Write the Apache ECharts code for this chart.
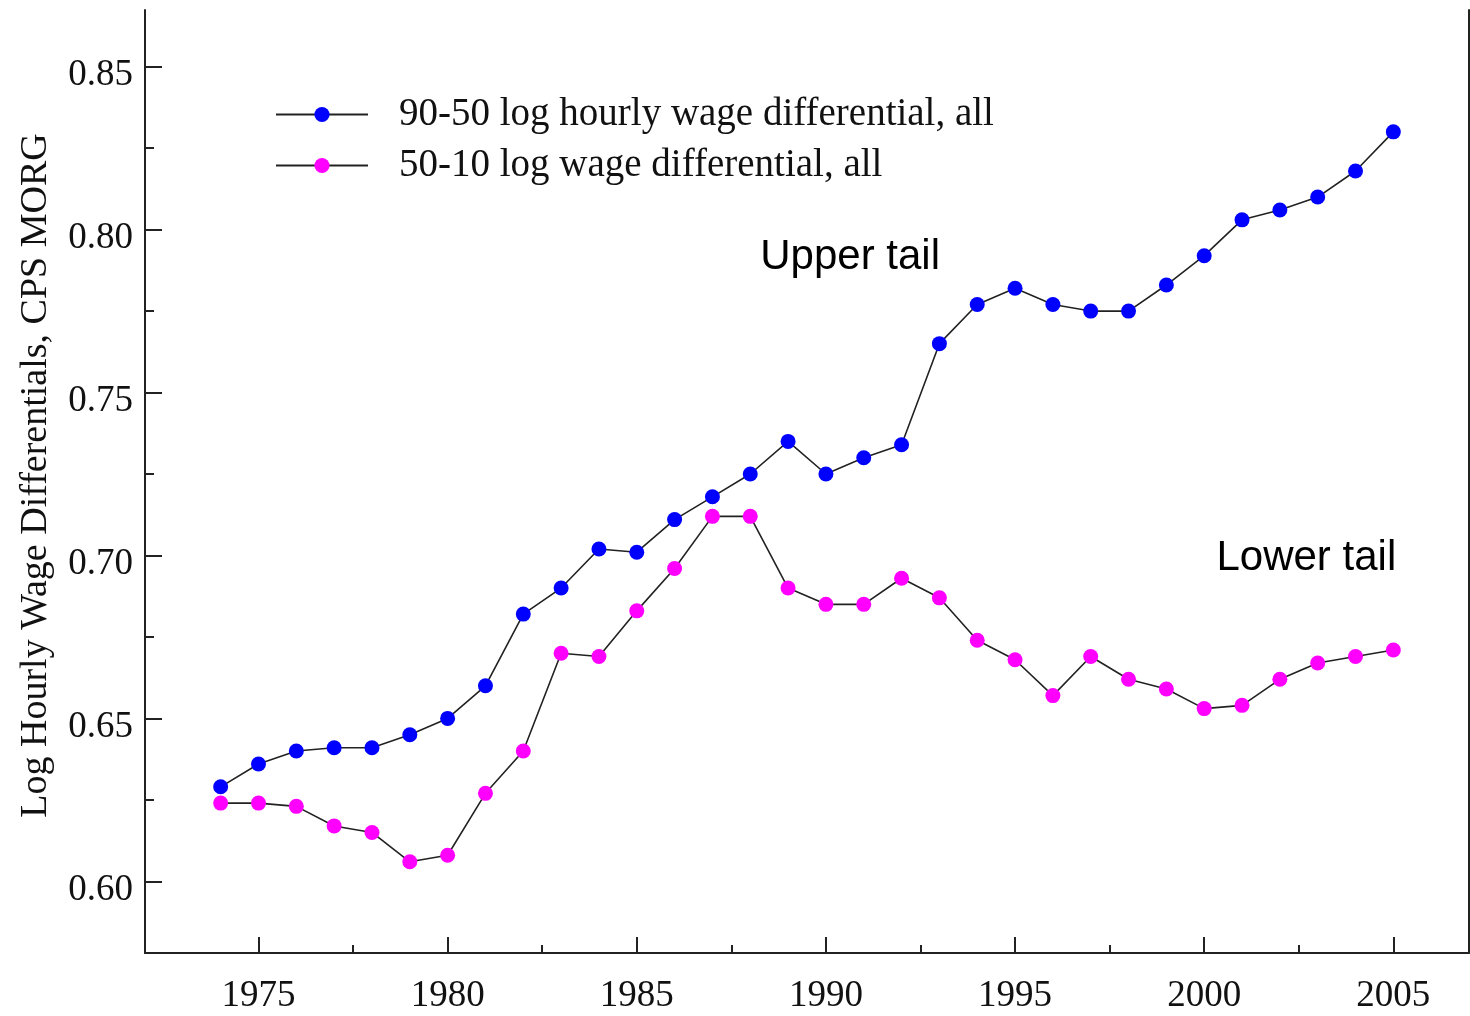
<!DOCTYPE html>
<html>
<head>
<meta charset="UTF-8">
<title>Upper and lower tail wage differentials</title>
<script src="https://cdn.jsdelivr.net/npm/echarts@6/dist/echarts.min.js"></script>
<style>
  body { margin: 0; background: #fff; }
  #chart { width: 1470px; height: 1016px; }
</style>
</head>
<body>
<div id="chart"></div>
<script>
// data
var years = [1974, 1975, 1976, 1977, 1978, 1979, 1980, 1981, 1982, 1983, 1984, 1985, 1986, 1987, 1988, 1989,
             1990, 1991, 1992, 1993, 1994, 1995, 1996, 1997, 1998, 1999, 2000, 2001, 2002, 2003, 2004, 2005];
var upper9050 = [0.629, 0.636, 0.640, 0.641, 0.641, 0.645, 0.650, 0.660, 0.682, 0.690, 0.702, 0.701, 0.711, 0.718, 0.725, 0.735,
                 0.725, 0.730, 0.734, 0.765, 0.777, 0.782, 0.777, 0.775, 0.775, 0.783, 0.792, 0.803, 0.806, 0.810, 0.818, 0.830];
var lower5010 = [0.624, 0.624, 0.623, 0.617, 0.615, 0.606, 0.608, 0.627, 0.640, 0.670, 0.669, 0.683, 0.696, 0.712, 0.712, 0.690,
                 0.685, 0.685, 0.693, 0.687, 0.674, 0.668, 0.657, 0.669, 0.662, 0.659, 0.653, 0.654, 0.662, 0.667, 0.669, 0.671];

var xMajor = [1975, 1980, 1985, 1990, 1995, 2000, 2005];
var xMinor = [1977.5, 1982.5, 1987.5, 1992.5, 1997.5, 2002.5];
var yMajor = [0.60, 0.65, 0.70, 0.75, 0.80, 0.85];
var yMinor = [0.625, 0.675, 0.725, 0.775, 0.825];

var serifFont = '"Liberation Serif", "DejaVu Serif", serif';
var axisColor = '#222';

function pair(xs, ys) {
    var out = [];
    for (var i = 0; i < xs.length; i++) {
        out.push([xs[i], ys[i]]);
    }
    return out;
}

var chart = echarts.init(document.getElementById('chart'));

var option = {
    backgroundColor: '#fff',
    animation: false,
    grid: { left: 145, right: 1, top: 10, bottom: 63 },
    legend: {
        orient: 'vertical',
        left: 275,
        top: 95,
        padding: 0,
        itemWidth: 92,
        itemHeight: 19,
        itemGap: 12,
        textStyle: {
            fontFamily: serifFont,
            fontSize: 39,
            color: '#111',
            lineHeight: 36,
            padding: [0, 0, 0, 26]
        },
        data: ['90-50 log hourly wage differential, all', '50-10 log wage differential, all']
    },
    xAxis: [{
        type: 'value',
        position: 'bottom',
        min: 1972,
        max: 2007,
        axisLine: { show: true, lineStyle: { color: axisColor, width: 2 } },
        axisTick: { show: true, inside: true, length: 16, customValues: xMajor, lineStyle: { color: axisColor, width: 2 } },
        axisLabel: {
            customValues: xMajor,
            margin: 25,
            fontFamily: serifFont,
            fontSize: 37,
            color: '#111',
            formatter: function (v) { return String(v); }
        },
        splitLine: { show: false }
    }, {
        type: 'value',
        position: 'bottom',
        min: 1972,
        max: 2007,
        axisLine: { show: false },
        axisTick: { show: true, inside: true, length: 8, customValues: xMinor, lineStyle: { color: axisColor, width: 2 } },
        axisLabel: { show: false },
        splitLine: { show: false }
    }],
    yAxis: [{
        type: 'value',
        position: 'left',
        min: 0.578,
        max: 0.8674,
        name: 'Log Hourly Wage Differentials, CPS MORG',
        nameLocation: 'middle',
        nameGap: 90,
        nameTextStyle: { fontFamily: serifFont, fontSize: 38, color: '#111', padding: [0, 0, 0, 12] },
        axisLine: { show: true, lineStyle: { color: axisColor, width: 2 } },
        axisTick: { show: true, inside: true, length: 17, customValues: yMajor, lineStyle: { color: axisColor, width: 2 } },
        axisLabel: {
            customValues: yMajor,
            margin: 12,
            color: '#111',
            formatter: function (v) { return '{t|' + v.toFixed(2) + '}'; },
            rich: {
                t: { fontFamily: serifFont, fontSize: 37, color: '#111', padding: [18, 0, 0, 0] }
            }
        },
        splitLine: { show: false }
    }, {
        type: 'value',
        position: 'left',
        min: 0.578,
        max: 0.8674,
        axisLine: { show: false },
        axisTick: { show: true, inside: true, length: 9, customValues: yMinor, lineStyle: { color: axisColor, width: 2 } },
        axisLabel: { show: false },
        splitLine: { show: false }
    }, {
        type: 'value',
        position: 'right',
        min: 0.578,
        max: 0.8674,
        axisLine: { show: true, lineStyle: { color: axisColor, width: 2 } },
        axisTick: { show: false },
        axisLabel: { show: false },
        splitLine: { show: false }
    }],
    series: [{
        name: '90-50 log hourly wage differential, all',
        type: 'line',
        data: pair(years, upper9050),
        symbol: 'circle',
        symbolSize: 15,
        showAllSymbol: true,
        lineStyle: { color: '#222', width: 1.6 },
        itemStyle: { color: '#0000ff' },
        z: 3,
        markPoint: {
            symbol: 'circle',
            symbolSize: 0,
            silent: true,
            label: {
                show: true,
                position: 'inside',
                fontFamily: '"Liberation Sans", Arial, sans-serif',
                fontSize: 42,
                color: '#000'
            },
            data: [{ coord: [1990.64, 0.7915], label: { formatter: 'Upper tail' } }]
        }
    }, {
        name: '50-10 log wage differential, all',
        type: 'line',
        data: pair(years, lower5010),
        symbol: 'circle',
        symbolSize: 15,
        showAllSymbol: true,
        lineStyle: { color: '#222', width: 1.6 },
        itemStyle: { color: '#ff00ff' },
        z: 3,
        markPoint: {
            symbol: 'circle',
            symbolSize: 0,
            silent: true,
            label: {
                show: true,
                position: 'inside',
                fontFamily: '"Liberation Sans", Arial, sans-serif',
                fontSize: 42,
                color: '#000'
            },
            data: [{ coord: [2002.7, 0.699], label: { formatter: 'Lower tail' } }]
        }
    }]
};

chart.setOption(option);
</script>
</body>
</html>
